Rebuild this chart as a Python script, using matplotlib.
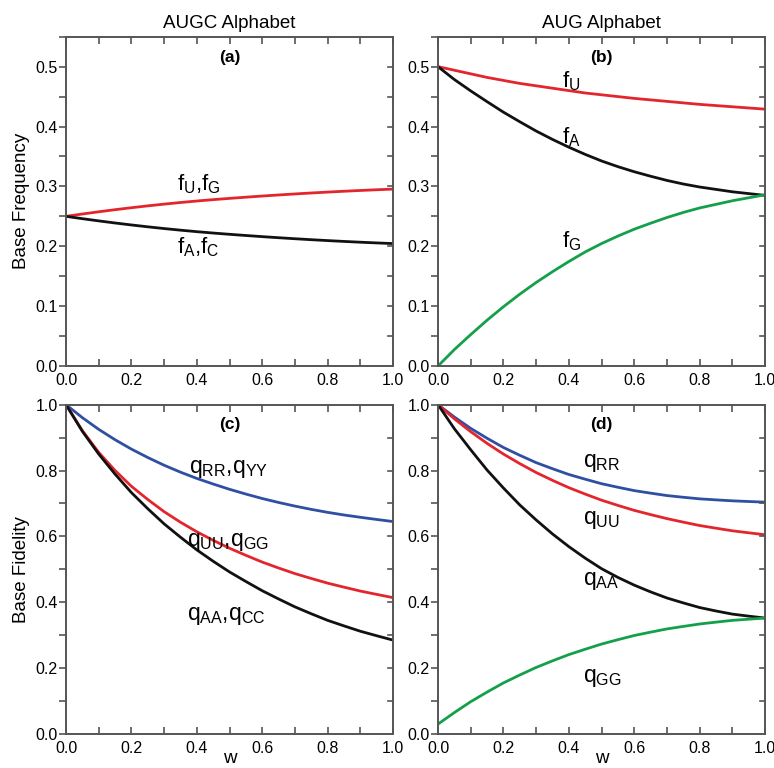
import matplotlib
matplotlib.use("Agg")
import matplotlib.pyplot as plt
from matplotlib.ticker import MultipleLocator, FormatStrFormatter

plt.rcParams['font.family'] = ['Liberation Sans', 'DejaVu Sans']
plt.rcParams['mathtext.fontset'] = 'custom'
plt.rcParams['mathtext.rm'] = 'Liberation Sans'
plt.rcParams['mathtext.it'] = 'Liberation Sans'

RED = '#e3262d'
BLACK = '#111111'
BLUE = '#2f4fa2'
GREEN = '#14a04a'
SPINE = '#555555'

# mutation weight w
w = [0.00, 0.05, 0.10, 0.15, 0.20, 0.25, 0.30, 0.35, 0.40, 0.45, 0.50,
     0.55, 0.60, 0.65, 0.70, 0.75, 0.80, 0.85, 0.90, 0.95, 1.00]

# (a) AUGC alphabet base frequencies
fa_UG = [0.2500, 0.2539, 0.2576, 0.2611, 0.2644, 0.2675, 0.2704, 0.2731, 0.2756, 0.2779, 0.2800,
         0.2820, 0.2839, 0.2857, 0.2874, 0.2890, 0.2905, 0.2919, 0.2932, 0.2944, 0.2955]
fa_AC = [0.2500, 0.2461, 0.2424, 0.2389, 0.2356, 0.2325, 0.2296, 0.2269, 0.2244, 0.2221, 0.2200,
         0.2180, 0.2161, 0.2143, 0.2126, 0.2110, 0.2095, 0.2081, 0.2068, 0.2056, 0.2045]

# (b) AUG alphabet base frequencies
fb_U = [0.500, 0.494, 0.488, 0.482, 0.477, 0.472, 0.468, 0.464, 0.460, 0.456, 0.453,
        0.450, 0.447, 0.4445, 0.442, 0.4395, 0.437, 0.435, 0.433, 0.431, 0.429]
fb_A = [0.500, 0.4785, 0.4595, 0.4415, 0.424, 0.408, 0.3925, 0.3785, 0.3655, 0.3535, 0.3425,
        0.333, 0.3245, 0.317, 0.310, 0.304, 0.299, 0.295, 0.291, 0.288, 0.285]
fb_G = [0.000, 0.0275, 0.0525, 0.0765, 0.099, 0.120, 0.1395, 0.1575, 0.1745, 0.1905, 0.2045,
        0.217, 0.2285, 0.2385, 0.248, 0.2565, 0.264, 0.270, 0.276, 0.281, 0.286]

# (c) AUGC alphabet base fidelities
qc_RR = [1.000, 0.9605, 0.925, 0.8935, 0.865, 0.8395, 0.816, 0.795, 0.776, 0.759, 0.743,
         0.7285, 0.715, 0.703, 0.692, 0.682, 0.673, 0.665, 0.658, 0.6514, 0.645]
qc_UU = [1.000, 0.921, 0.855, 0.800, 0.752, 0.712, 0.675, 0.643, 0.614, 0.588, 0.564,
         0.5425, 0.522, 0.504, 0.487, 0.4722, 0.458, 0.4458, 0.434, 0.4239, 0.414]
qc_AA = [1.000, 0.919, 0.850, 0.789, 0.733, 0.684, 0.638, 0.5975, 0.559, 0.5245, 0.492,
         0.463, 0.435, 0.410, 0.386, 0.365, 0.345, 0.3282, 0.312, 0.2983, 0.285]

# (d) AUG alphabet base fidelities
qd_RR = [1.000, 0.9625, 0.928, 0.898, 0.870, 0.8463, 0.824, 0.8055, 0.788, 0.7737, 0.760,
         0.7492, 0.739, 0.7313, 0.724, 0.7188, 0.714, 0.7109, 0.708, 0.7059, 0.704]
qd_UU = [1.000, 0.957, 0.918, 0.8825, 0.850, 0.821, 0.794, 0.7702, 0.748, 0.7285, 0.710,
         0.6941, 0.679, 0.6662, 0.654, 0.6433, 0.633, 0.6249, 0.617, 0.6109, 0.605]
qd_AA = [1.000, 0.927, 0.863, 0.8015, 0.747, 0.6955, 0.650, 0.6075, 0.569, 0.534, 0.502,
         0.4755, 0.452, 0.4315, 0.413, 0.398, 0.384, 0.3735, 0.364, 0.3578, 0.352]
qd_GG = [0.030, 0.065, 0.098, 0.1272, 0.155, 0.179, 0.202, 0.222, 0.241, 0.2573, 0.273,
         0.2863, 0.299, 0.3092, 0.319, 0.3266, 0.334, 0.3396, 0.345, 0.3486, 0.352]

fig = plt.figure(figsize=(7.74, 7.68), dpi=100)
axw, axh = 0.4225, 0.4288
ax_a = fig.add_axes([0.0853, 0.5234, axw, axh])
ax_b = fig.add_axes([0.5659, 0.5234, axw, axh])
ax_c = fig.add_axes([0.0853, 0.0443, axw, axh])
ax_d = fig.add_axes([0.5659, 0.0443, axw, axh])

LW = 2.0
kw = dict(lw=LW, solid_joinstyle='round', solid_capstyle='round')
ax_a.plot(w, fa_UG, color=RED, **kw)
ax_a.plot(w, fa_AC, color=BLACK, **kw)

ax_b.plot(w, fb_U, color=RED, **kw)
ax_b.plot(w, fb_A, color=BLACK, **kw)
ax_b.plot(w, fb_G, color=GREEN, **kw)

ax_c.plot(w, qc_RR, color=BLUE, **kw)
ax_c.plot(w, qc_UU, color=RED, **kw)
ax_c.plot(w, qc_AA, color=BLACK, **kw)

ax_d.plot(w, qd_RR, color=BLUE, **kw)
ax_d.plot(w, qd_UU, color=RED, **kw)
ax_d.plot(w, qd_AA, color=BLACK, **kw)
ax_d.plot(w, qd_GG, color=GREEN, **kw)

TICK_FS = 11.5
for ax, top in [(ax_a, True), (ax_b, True), (ax_c, False), (ax_d, False)]:
    ax.set_xlim(0, 1)
    if top:
        ax.set_ylim(0, 0.55)
        ax.yaxis.set_major_locator(MultipleLocator(0.1))
        ax.yaxis.set_minor_locator(MultipleLocator(0.05))
    else:
        ax.set_ylim(0, 1.0)
        ax.yaxis.set_major_locator(MultipleLocator(0.2))
        ax.yaxis.set_minor_locator(MultipleLocator(0.1))
    ax.xaxis.set_major_locator(MultipleLocator(0.2))
    ax.xaxis.set_minor_locator(MultipleLocator(0.1))
    ax.xaxis.set_major_formatter(FormatStrFormatter('%.1f'))
    ax.yaxis.set_major_formatter(FormatStrFormatter('%.1f'))
    for s in ax.spines.values():
        s.set_color(SPINE)
        s.set_linewidth(1.4)
    ax.tick_params(axis='x', which='both', direction='in', top=True, bottom=True,
                   length=5, width=1.2, color=SPINE, labelsize=TICK_FS, pad=5)
    ax.tick_params(axis='y', which='both', direction='out', left=True, right=False,
                   length=5, width=1.2, color=SPINE, labelsize=TICK_FS, pad=1)
    # inward ticks on the right side
    lo, hi = ax.get_ylim()
    for y in ax.yaxis.get_majorticklocs().tolist() + ax.yaxis.get_minorticklocs().tolist():
        if lo < y < hi:
            ax.plot([0.985, 1.0], [y, y], transform=ax.get_yaxis_transform(),
                    color=SPINE, lw=1.2, clip_on=False)

LAB_FS = 13.5
ax_a.set_title('AUGC Alphabet', fontsize=LAB_FS, pad=6)
ax_b.set_title('AUG Alphabet', fontsize=LAB_FS, pad=6)
ax_a.set_ylabel('Base Frequency', fontsize=LAB_FS, labelpad=4)
ax_c.set_ylabel('Base Fidelity', fontsize=LAB_FS, labelpad=4)
ax_c.set_xlabel('w', fontsize=LAB_FS, labelpad=-4)
ax_d.set_xlabel('w', fontsize=LAB_FS, labelpad=-4)

for ax, lab, y in [(ax_a, '(a)', 0.515), (ax_b, '(b)', 0.515), (ax_c, '(c)', 0.94), (ax_d, '(d)', 0.94)]:
    ax.text(0.5, y, lab, fontsize=12.5, fontweight='bold', ha='center', va='center')

FS = 16
ax_a.text(0.34, 0.303, r'$\mathregular{f_U{,}f_G}$', fontsize=FS, va='center')
ax_a.text(0.34, 0.199, r'$\mathregular{f_A{,}f_C}$', fontsize=FS, va='center')

ax_b.text(0.378, 0.475, r'$\mathregular{f_U}$', fontsize=FS, va='center')
ax_b.text(0.378, 0.382, r'$\mathregular{f_A}$', fontsize=FS, va='center')
ax_b.text(0.378, 0.208, r'$\mathregular{f_G}$', fontsize=FS, va='center')

FQ = 16.5
ax_c.text(0.375, 0.805, r'$\mathregular{q_{RR}{,}q_{YY}}$', fontsize=FQ, va='center')
ax_c.text(0.37, 0.584, r'$\mathregular{q_{UU}{,}q_{GG}}$', fontsize=FQ, va='center')
ax_c.text(0.37, 0.36, r'$\mathregular{q_{AA}{,}q_{CC}}$', fontsize=FQ, va='center')

ax_d.text(0.444, 0.824, r'$\mathregular{q_{RR}}$', fontsize=FQ, va='center')
ax_d.text(0.444, 0.652, r'$\mathregular{q_{UU}}$', fontsize=FQ, va='center')
ax_d.text(0.444, 0.467, r'$\mathregular{q_{AA}}$', fontsize=FQ, va='center')
ax_d.text(0.444, 0.17, r'$\mathregular{q_{GG}}$', fontsize=FQ, va='center')

fig.savefig('out.png', dpi=100)
